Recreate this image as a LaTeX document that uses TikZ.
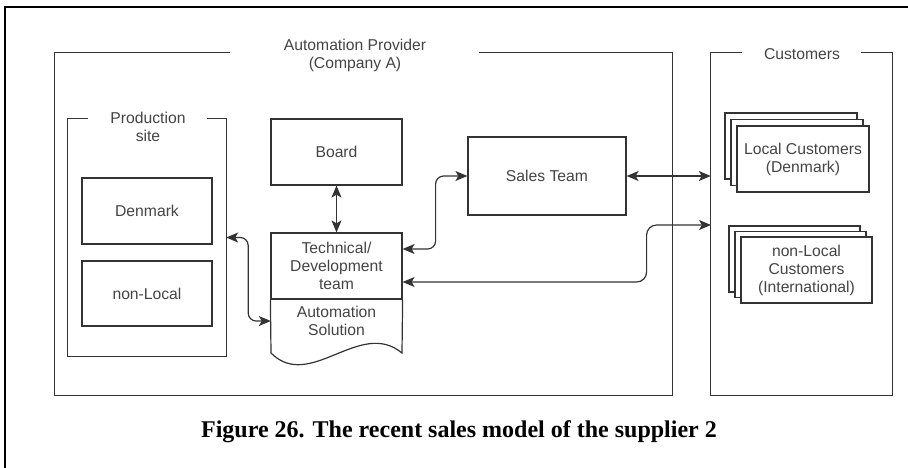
\documentclass[tikz,border=0pt]{standalone}
\usepackage{fontspec}
\setmainfont{Liberation Sans}
\newfontfamily\capfont{Liberation Serif}
\usetikzlibrary{arrows.meta}
\definecolor{lc}{HTML}{333333}
\definecolor{tc}{HTML}{444444}
\newcommand\dgfont{\fontsize{15.7}{18}\selectfont}
\tikzset{
  ln/.style={draw=lc, line width=1.2pt},
  box/.style={ln, rectangle, inner sep=0pt, align=center, text=tc, font=\dgfont},
  lbl/.style={inner sep=0pt, align=center, text=tc, font=\dgfont},
  frame/.style={rectangle, draw=none, inner sep=0pt},
  dbl/.style={ln, {Stealth[length=12pt, width=10pt, inset=3pt]}-{Stealth[length=12pt, width=10pt, inset=3pt]}, rounded corners=8pt},
  stackbox/.style={ln, fill=white, rectangle, minimum width=132pt, minimum height=66pt, inner sep=0pt}
}
\begin{document}
\begin{tikzpicture}[x=1pt, y=-1pt]
\useasboundingbox (0,0) rectangle (908,467);

% page border
\draw[black, line width=2.2pt] (5,470) -- (5,7) -- (912,7);

% outer group frames
\node[frame, minimum width=617pt, minimum height=342pt] (prov) at (363.5,224) {};
\draw[ln] (prov.north west) ++(175,0) -- (prov.north west) -- (prov.south west)
  -- (prov.south east) -- (prov.north east) -- ++(-193,0);
\node[lbl] (provlbl) at (355,55) {Automation Provider\\(Company A)};

\node[frame, minimum width=181pt, minimum height=342pt] (cust) at (801.5,224) {};
\draw[ln] (cust.north west) ++(31,0) -- (cust.north west) -- (cust.south west)
  -- (cust.south east) -- (cust.north east) -- ++(-31,0);
\node[lbl] (custlbl) at (802,54) {Customers};

\node[frame, minimum width=158pt, minimum height=237pt] (prod) at (147,237.5) {};
\draw[ln] (prod.north west) ++(20,0) -- (prod.north west) -- (prod.south west)
  -- (prod.south east) -- (prod.north east) -- ++(-19,0);
\node[lbl] (prodlbl) at (148,127) {Production\\site};

% production sites
\node[box, minimum width=130pt, minimum height=66pt] (dk) at (147,211) {Denmark};
\node[box, minimum width=130pt, minimum height=65pt] (nl) at (147,293.5) {non-Local};

% company internals
\node[box, minimum width=131pt, minimum height=66pt] (board) at (336.5,152) {Board};
\node[box, minimum width=131pt, minimum height=66pt] (tech) at (336.5,266) {Technical/\\Development\\team};
\draw[ln] (tech.south west) -- (271,353) .. controls (310,392) and (360,318) .. (402,353)
  -- (tech.south east);
\node[lbl, minimum width=131pt] (doc) at (336.5,321) {Automation\\Solution};
\node[box, minimum width=158pt, minimum height=78pt] (sales) at (547,176) {Sales Team};

% customer stacks
\node[stackbox] (lc3) at (791,146) {};
\node[stackbox] (lc2) at (797,152.5) {};
\node[stackbox] (lc) at (803,159) {};
\node[lbl] (lctext) at (lc.center) {Local Customers\\(Denmark)};

\node[stackbox, minimum width=131pt] (ic3) at (794.5,259) {};
\node[stackbox, minimum width=131pt] (ic2) at (800.5,264.5) {};
\node[stackbox, minimum width=131pt] (ic) at (806.5,270) {};
\node[lbl] (ictext) at (ic.center) {non-Local\\Customers\\(International)};

% connectors
\coordinate (custin) at (711,225);
\draw[dbl] (board.south) -- (tech.north);
\draw[dbl] (sales.east) -- (sales.east -| cust.west);
\draw[dbl] ([yshift=17pt]tech.east) -- ++(33,0) |- (sales.west);
\draw[dbl, rounded corners=10pt] ([yshift=-16pt]tech.east) -- ++(244,0) |- (custin);
\draw[dbl] (prod.east) -- ++(22,0) |- (doc.west);

% caption
\node[inner sep=0pt, font=\capfont\bfseries\fontsize{24}{28}\selectfont] (cap) at (459,432)
  {Figure 26. The recent sales model of the supplier 2};
\end{tikzpicture}
\end{document}
